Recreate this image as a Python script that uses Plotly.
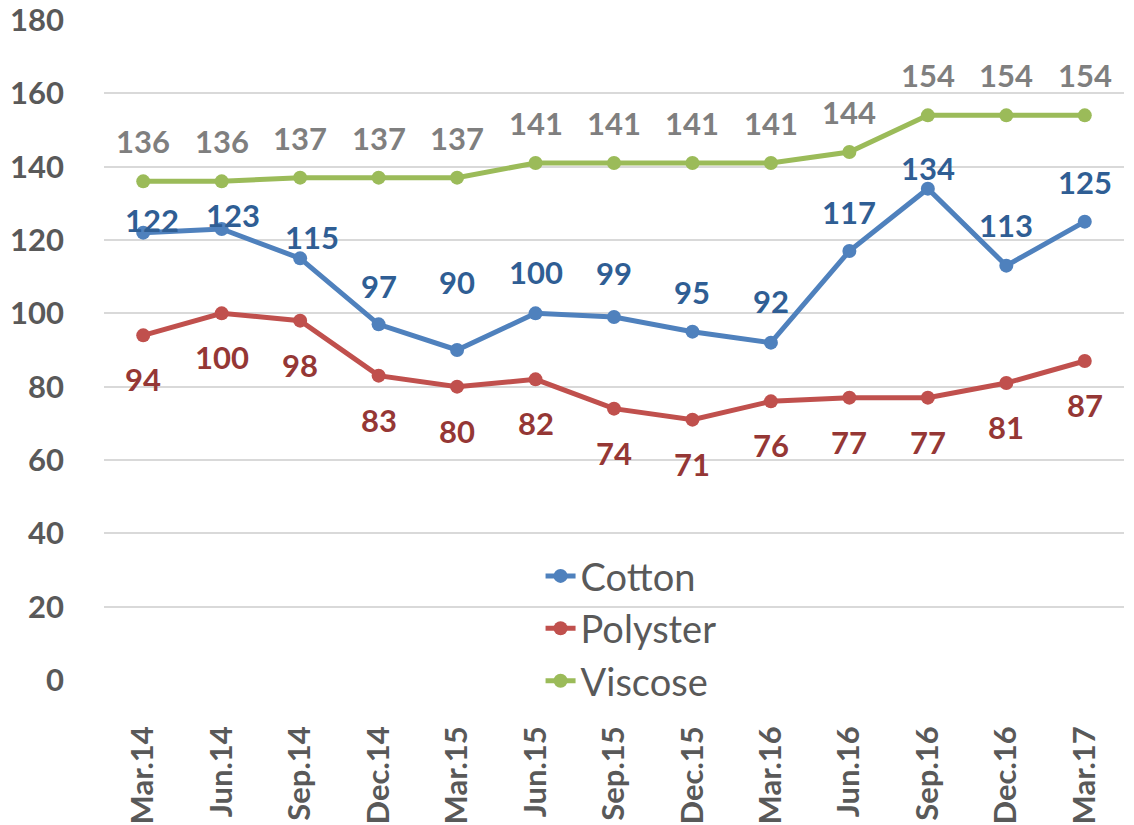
import plotly.graph_objects as go

categories = ["Mar.14", "Jun.14", "Sep.14", "Dec.14", "Mar.15", "Jun.15", "Sep.15",
              "Dec.15", "Mar.16", "Jun.16", "Sep.16", "Dec.16", "Mar.17"]
cotton = [122, 123, 115, 97, 90, 100, 99, 95, 92, 117, 134, 113, 125]
polyster = [94, 100, 98, 83, 80, 82, 74, 71, 76, 77, 77, 81, 87]
viscose = [136, 136, 137, 137, 137, 141, 141, 141, 141, 144, 154, 154, 154]
y_ticks = list(range(0, 181, 20))

# label placement offsets in pixels (style only)
cotton_label_dy = [13, 14, 21, 38, 68, 41, 44, 40, 42, 39, 21, 41, 40]
cotton_label_dx = [9, 11, 12, 0, 0, 0, 0, 0, 0, 0, 0, 0, 0]
polyster_label_dy = [-44] * 13
viscose_label_dy = [40] * 13

FONT = "Lato"
GRAY = "#595959"
LABEL_SIZE = 31

fig = go.Figure()

def add(name, vals, line_color):
    fig.add_trace(go.Scatter(
        x=categories, y=vals, name=name, mode="lines+markers",
        line=dict(color=line_color, width=5),
        marker=dict(color=line_color, size=14),
        cliponaxis=False,
    ))

add("Cotton", cotton, "#4F81BD")
add("Polyster", polyster, "#C0504D")
add("Viscose", viscose, "#9BBB59")

def labels(vals, dys, dxs, color):
    for c, v, dy, dx in zip(categories, vals, dys, dxs):
        fig.add_annotation(x=c, y=v, text=str(v), showarrow=False,
                           xanchor="center", yanchor="middle", yshift=dy, xshift=dx,
                           font=dict(family=FONT, size=LABEL_SIZE, color=color, weight="bold"))

labels(viscose, viscose_label_dy, [0] * 13, "#7F7F7F")
labels(cotton, cotton_label_dy, cotton_label_dx, "#2F5E94")
labels(polyster, polyster_label_dy, [0] * 13, "#953735")

fig.update_layout(
    width=1134, height=825,
    margin=dict(l=104, r=10, t=20, b=145),
    paper_bgcolor="white", plot_bgcolor="white",
    font=dict(family=FONT, color=GRAY),
    legend=dict(x=0.428, y=0.205, xanchor="left", yanchor="top",
                font=dict(family=FONT, size=38, color=GRAY),
                bgcolor="rgba(0,0,0,0)", tracegroupgap=0),
    showlegend=True,
)
fig.update_xaxes(type="category", showgrid=False, showline=False, ticks="",
                 tickangle=-90, automargin=False, ticklabeloverflow="allow",
                 tickfont=dict(family=FONT, size=31, color=GRAY, weight="bold"),
                 ticklabelstandoff=39,
                 range=[-0.5, len(categories) - 0.5])
fig.update_yaxes(range=[0, 180], tickvals=y_ticks, showgrid=True, gridcolor="#D9D9D9",
                 gridwidth=1.5, zeroline=False, showline=False, ticks="", automargin=False,
                 ticklabeloverflow="allow",
                 tickfont=dict(family=FONT, size=31, color=GRAY, weight="bold"),
                 ticklabelstandoff=39)

# remove the browser's default 8px body margin so the figure fills the window exactly
fig.write_html("out.html", config={"displayModeBar": False},
               post_script="document.body.style.margin='0px';")
